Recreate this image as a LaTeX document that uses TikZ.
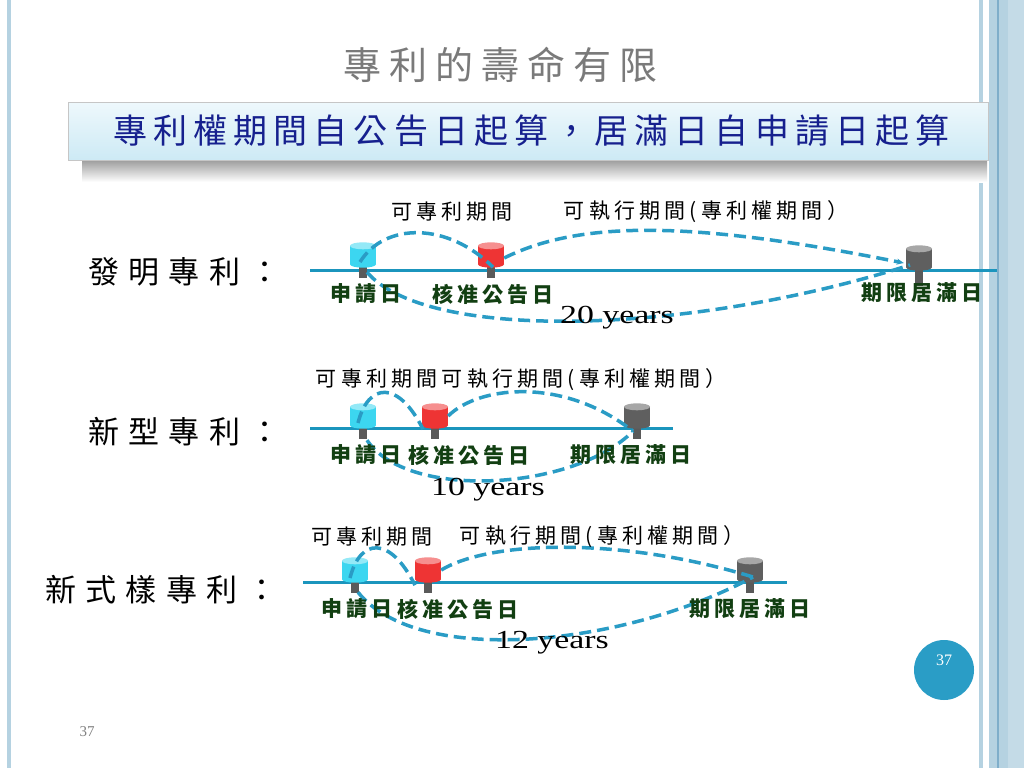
\documentclass[tikz,border=0pt]{standalone}
\usepackage{fontspec}
\setmainfont{Liberation Serif}
\newfontfamily\cjk{Noto Sans CJK TC}
\usetikzlibrary{arrows.meta}
\definecolor{lineblue}{HTML}{1B95BD}
\definecolor{dashblue}{HTML}{2A9CC5}
\definecolor{stemgray}{HTML}{5A5A5A}
\definecolor{lblgreen}{HTML}{123F12}
\definecolor{titlegray}{HTML}{7A7A7A}
\definecolor{boxnavy}{HTML}{16208E}
\definecolor{boxtop}{HTML}{EEF8FC}
\definecolor{boxbot}{HTML}{CDEAF5}
\definecolor{bandblue}{HTML}{B5D2E1}
\definecolor{banddark}{HTML}{7FAECA}
\definecolor{pageblue}{HTML}{2A9DC6}
\definecolor{drumcyan}{HTML}{3CD6F0}
\definecolor{drumred}{HTML}{EE3434}
\definecolor{drumgray}{HTML}{5F5F5F}
\begin{document}
\begin{tikzpicture}[x=1pt,y=-1pt,
    tline/.style={lineblue,line width=3pt},
    spanline/.style={dashblue,line width=3.5pt,dash pattern=on 12pt off 6pt},
    drum/.style={minimum width=26pt,minimum height=18pt,inner sep=0pt,fill=#1},
    kind/.style={anchor=west,inner sep=0pt,font=\cjk\fontsize{31}{31}\selectfont\addfontfeature{LetterSpace=30}},
    datelbl/.style={inner sep=0pt,text=lblgreen,font=\cjk\bfseries\fontsize{21}{21}\selectfont\addfontfeature{LetterSpace=20}},
    spanlbl/.style={inner sep=0pt,font=\cjk\fontsize{21}{21}\selectfont\addfontfeature{LetterSpace=20}},
    yrs/.style={inner sep=0pt,font=\fontsize{26}{26}\selectfont\addfontfeature{FakeStretch=1.3}}]
  \fill[white] (0,0) rectangle (1024,768);
  \useasboundingbox (0,0) rectangle (1024,768);
  \fill[bandblue] (7,0) rectangle (11,768);
  \fill[bandblue] (979,0) rectangle (983,768);
  \fill[bandblue] (989,0) rectangle (1024,768);
  \fill[bandblue!80!white] (1008,0) rectangle (1024,768);
  \draw[banddark,line width=1.2pt] (998,0) -- (998,768);

  \node[anchor=west,inner sep=0pt,text=titlegray,font=\cjk\fontsize{38}{38}\selectfont\addfontfeature{LetterSpace=21}]
    (title) at (343,65) {專利的壽命有限};
  \shade[top color=black!42,bottom color=white] (82,158) rectangle (987,182);
  \node[minimum width=920pt,minimum height=58pt,draw=gray!45,top color=boxtop,bottom color=boxbot]
    (rule) at (528,131) {};
  \node[anchor=west,inner sep=0pt,text=boxnavy,font=\cjk\fontsize{34}{34}\selectfont\addfontfeature{LetterSpace=18}]
    (ruletext) at (113,131) {專利權期間自公告日起算，居滿日自申請日起算};

  \node[kind] (k1) at (88,272) {發明專利：};
  \node[kind] (k2) at (88,432) {新型專利：};
  \node[kind] (k3) at (45,590) {新式樣專利：};

  \foreach \a/\b/\y in {310/997/270,310/673/428,303/787/582}
    \draw[tline] (\a,\y) -- (\b,\y);
  \foreach \n/\x/\y/\c/\h in {c1/363/255/drumcyan/14,r1/491/255/drumred/14,g1/919/258/drumgray/19,
      c2/363/416/drumcyan/14,r2/435/416/drumred/14,g2/637/416/drumgray/14,
      c3/355/570/drumcyan/14,r3/428/570/drumred/14,g3/750/570/drumgray/14}{
    \node[drum=\c] (\n) at (\x,\y) {};
    \fill[stemgray] ([xshift=-4pt]\n.south) rectangle ([xshift=4pt,yshift=-\h pt]\n.south);
    \fill[\c] (\n.south) ellipse [x radius=13pt,y radius=3.5pt];
    \fill[\c!55!white] (\n.north) ellipse [x radius=13pt,y radius=3.5pt];
  }

  \draw[spanline] ([xshift=-3pt,yshift=-7pt]c1.center) .. controls +(25,-40) and +(-45,-45) .. ([xshift=2pt,yshift=-3pt]r1.south);
  \draw[spanline,-{Stealth[length=7pt,width=6pt]}] ([yshift=-3pt]r1.east) .. controls +(80,-40) and +(-200,-40) .. ([xshift=-2pt,yshift=-5pt]g1.west);
  \draw[spanline] ([xshift=4pt,yshift=-8pt]c1.south) .. controls +(60,70) and +(-220,70) .. ([xshift=-9pt,yshift=-7pt]g1.center);

  \draw[spanline] ([xshift=-5pt,yshift=-7pt]c2.center) .. controls +(10,-40) and +(-25,-50) .. ([xshift=-12pt,yshift=-4pt]r2.south);
  \draw[spanline] (r2.east) .. controls +(30,-30) and +(-70,-55) .. ([xshift=-4pt,yshift=-6pt]g2.south);
  \draw[spanline] ([xshift=4pt,yshift=-15pt]c2.south) .. controls +(40,60) and +(-60,60) .. ([xshift=-4pt,yshift=-6pt]g2.south);

  \draw[spanline] ([xshift=-5pt,yshift=-8pt]c3.center) .. controls +(10,-40) and +(-25,-50) .. ([xshift=-13pt,yshift=-6pt]r3.south);
  \draw[spanline] (r3.east) .. controls +(50,-30) and +(-130,-40) .. ([xshift=3pt,yshift=-7pt]g3.center);
  \draw[spanline] ([xshift=3pt,yshift=-13pt]c3.south) .. controls +(60,75) and +(-130,70) .. ([xshift=3pt,yshift=-7pt]g3.center);

  \foreach \n/\x/\y/\t in {d1/366/294/申請日,d2/493/294/核准公告日,d3/922/293/期限居滿日,
      d4/366/455/申請日,d5/469/455/核准公告日,d6/631/455/期限居滿日,
      d7/357/609/申請日,d8/458/609/核准公告日,d9/750/609/期限居滿日}
    \node[datelbl] (\n) at (\x,\y) {\t};
  \foreach \n/\x/\y/\t in {p1/452/212/可專利期間,p2/706/212/可執行期間(專利權期間）,
      p3/521/380/可專利期間可執行期間(專利權期間）,
      p4/372/537/可專利期間,p5/602/537/可執行期間(專利權期間）}
    \node[spanlbl] (\n) at (\x,\y) {\t};

  \node[yrs] (y1) at (617,318) {20 years};
  \node[yrs] (y2) at (488,490) {10 years};
  \node[yrs] (y3) at (552,643) {12 years};

  \node[circle,fill=pageblue,minimum size=60pt,inner sep=0pt] (pg) at (944,670) {};
  \node[text=white,inner sep=0pt,font=\fontsize{16}{16}\selectfont] (pgnum) at (944,660) {37};
  \node[text=gray,inner sep=0pt,font=\fontsize{15}{15}\selectfont] (foot) at (87,732) {37};
\end{tikzpicture}
\end{document}
